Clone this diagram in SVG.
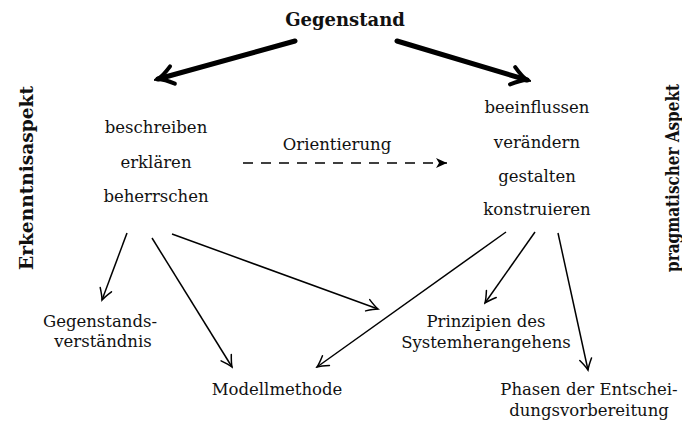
<svg xmlns="http://www.w3.org/2000/svg" width="682" height="422" viewBox="0 0 682 422">
<style>
text{font-family:"DejaVu Serif","Liberation Serif",serif;fill:#111;text-anchor:middle;font-size:16.5px}
.b{font-weight:bold;font-size:18px}
.thin{stroke:#000;stroke-width:1.5;fill:none;marker-end:url(#ah)}
.thick{stroke:#000;stroke-width:5;stroke-linecap:round;fill:none;marker-end:url(#ahb)}
.dash{stroke:#000;stroke-width:1.6;fill:none;stroke-dasharray:10 8;marker-end:url(#ahd)}
</style>
<defs>
<marker id="ah" markerUnits="userSpaceOnUse" viewBox="-13 -8 15 16" refX="0" refY="0" markerWidth="15" markerHeight="16" orient="auto">
<path d="M-11,-6 Q-4,-1.5 0,0 Q-4,1.5 -11,6" fill="none" stroke="#000" stroke-width="1.5" stroke-linecap="round"/>
</marker>
<marker id="ahb" markerUnits="userSpaceOnUse" viewBox="-20 -12 24 24" refX="0" refY="0" markerWidth="24" markerHeight="24" orient="auto">
<path d="M-15,-9 Q-6,-2 0,0 Q-6,2 -15,9" fill="none" stroke="#000" stroke-width="4" stroke-linecap="round"/>
</marker>
<marker id="ahd" markerUnits="userSpaceOnUse" viewBox="-12 -7 14 14" refX="0" refY="0" markerWidth="14" markerHeight="14" orient="auto">
<path d="M-11,-5 L0,0 L-11,5 L-8,0 z" fill="#000"/>
</marker>
</defs>
<g id="gegenstand"><text class="b" x="345" y="26">Gegenstand</text></g>
<g id="erkenntnis"><text class="b" transform="translate(33,178) rotate(-90)" x="0" y="0" textLength="184" lengthAdjust="spacingAndGlyphs">Erkenntnisaspekt</text></g>
<g id="pragmatisch"><text class="b" transform="translate(679,178) rotate(-90)" x="0" y="0" textLength="188" lengthAdjust="spacingAndGlyphs">pragmatischer Aspekt</text></g>
<g id="left">
<text x="156" y="133">beschreiben</text>
<text x="156" y="168">erklären</text>
<text x="156" y="202">beherrschen</text>
</g>
<g id="right">
<text x="537" y="113">beeinflussen</text>
<text x="537" y="148">verändern</text>
<text x="537" y="182">gestalten</text>
<text x="537" y="215">konstruieren</text>
</g>
<g id="orientierung"><text x="337" y="150">Orientierung</text></g>
<g id="gegenstandsverstaendnis">
<text x="100" y="327">Gegenstands-</text>
<text x="103" y="347">verständnis</text>
</g>
<g id="modellmethode"><text x="277" y="395">Modellmethode</text></g>
<g id="prinzipien">
<text x="486" y="327">Prinzipien des</text>
<text x="486" y="348">Systemherangehens</text>
</g>
<g id="phasen">
<text x="589" y="395">Phasen der Entschei-</text>
<text x="589" y="416">dungsvorbereitung</text>
</g>
<g id="connectors">
<line class="thick" x1="295" y1="41" x2="158" y2="79"/>
<line class="thick" x1="397" y1="41" x2="527" y2="80"/>
<line class="dash" x1="243" y1="163" x2="447" y2="163"/>
<line class="thin" x1="127" y1="233" x2="102" y2="300"/>
<line class="thin" x1="152" y1="238" x2="232" y2="367"/>
<line class="thin" x1="172" y1="234" x2="378" y2="309"/>
<line class="thin" x1="506" y1="232" x2="317" y2="367"/>
<line class="thin" x1="535" y1="232" x2="485" y2="303"/>
<line class="thin" x1="558" y1="233" x2="588" y2="370"/>
</g>
</svg>
